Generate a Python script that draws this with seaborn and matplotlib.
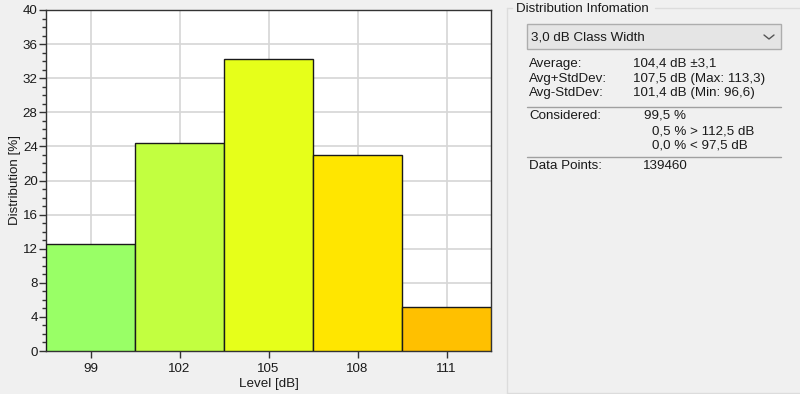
import numpy as np
import pandas as pd
import matplotlib
matplotlib.use("Agg")
import matplotlib.pyplot as plt
import seaborn as sns
from matplotlib.patches import Rectangle
from matplotlib.lines import Line2D
from matplotlib.ticker import MultipleLocator

# class centers (dB) and share of data points (%)
levels = [99, 102, 105, 108, 111]
shares = [12.6, 24.4, 34.2, 23.0, 5.2]
bar_colors = ['#99ff66', '#c2ff40', '#e6ff1a', '#ffe600', '#ffc000']
class_width = 3.0

# info panel text
info_title = 'Distribution Infomation'
combo_text = '3,0 dB Class Width'
stat_labels = ['Average:', 'Avg+StdDev:', 'Avg-StdDev:']
stat_values = ['104,4 dB \u00b13,1', '107,5 dB (Max: 113,3)', '101,4 dB (Min: 96,6)']
considered = ['99,5 %', '0,5 % > 112,5 dB', '0,0 % < 97,5 dB']
data_points = '139460'

sns.set_style('white')
plt.rcParams['font.family'] = ['Liberation Sans', 'DejaVu Sans']
bg = '#f0f0f0'
txt = '#1a1a1a'
fs = 9.6

fig = plt.figure(figsize=(8, 3.94), dpi=100, facecolor=bg)
ax = fig.add_axes([46/800, 1 - 351/394, 445/800, 341/394])
ax.set_facecolor('white')

df = pd.DataFrame({'level': levels, 'share': shares})
sns.barplot(data=df, x='level', y='share', hue='level', palette=bar_colors,
            native_scale=True, width=1, dodge=False, legend=False, saturation=1,
            edgecolor='#1a1a1a', linewidth=1, ax=ax, zorder=3)

ax.set_xlim(levels[0] - class_width/2, levels[-1] + class_width/2)
ax.set_ylim(0, 40)
ax.set_xticks(levels)
ax.set_xticklabels([str(v) for v in levels])
ax.yaxis.set_major_locator(MultipleLocator(4))
ax.yaxis.set_minor_locator(MultipleLocator(1))
ax.grid(True, which='major', color='#d6d6d6', linewidth=1.2, zorder=0)
ax.set_axisbelow(True)
ax.tick_params(axis='y', which='major', length=5, width=1, color='#333333',
               labelsize=fs, labelcolor=txt, pad=1, left=True)
ax.tick_params(axis='y', which='minor', length=3, width=1, color='#333333', left=True)
ax.tick_params(axis='x', length=5, width=1, color='#333333', labelsize=fs,
               labelcolor=txt, pad=4, bottom=True)
for s in ax.spines.values():
    s.set_color('#333333')
    s.set_linewidth(1)
ax.set_xlabel('Level [dB]', fontsize=fs, color=txt, labelpad=2)
ax.set_ylabel('Distribution [%]', fontsize=fs, color=txt, labelpad=1)

# group box on the right
def px(x, y):
    return x / 800, 1 - y / 394

x0, y0 = px(507, 8)
fig.add_artist(Line2D([x0, x0], [y0, px(0, 393)[1]], color='#dcdcdc', lw=1))
fig.add_artist(Line2D([x0, px(512, 0)[0]], [y0, y0], color='#dcdcdc', lw=1))
fig.add_artist(Line2D([px(655, 0)[0], 1], [y0, y0], color='#dcdcdc', lw=1))
fig.add_artist(Line2D([x0, 1], [px(0, 393)[1]] * 2, color='#dcdcdc', lw=1))
fig.text(*px(516, 9), info_title, fontsize=fs, color=txt, va='center', ha='left')

# combo box
cx, cy = px(527, 49)
fig.add_artist(Rectangle((cx, cy), 254/800, 25/394, facecolor='#e5e5e5',
                         edgecolor='#adadad', lw=1, transform=fig.transFigure))
fig.text(*px(531, 37), combo_text, fontsize=fs, color=txt, va='center', ha='left')
fig.add_artist(Line2D([px(764, 0)[0], px(769, 0)[0], px(774, 0)[0]],
                      [px(0, 35)[1], px(0, 39)[1], px(0, 35)[1]],
                      color='#555555', lw=1))

rows_y = [64, 79, 93]
for lab, val, ry in zip(stat_labels, stat_values, rows_y):
    fig.text(*px(529, ry), lab, fontsize=fs, color=txt, va='center')
    fig.text(*px(633, ry), val, fontsize=fs, color=txt, va='center')

for ly in [107, 157]:
    fig.add_artist(Line2D([px(527, 0)[0], px(781, 0)[0]], [px(0, ly)[1]] * 2,
                          color='#a0a0a0', lw=1))

fig.text(*px(529, 116), 'Considered:', fontsize=fs, color=txt, va='center')
for val, ry, rx in zip(considered, [116, 131, 146], [644, 652, 652]):
    fig.text(*px(rx, ry), val, fontsize=fs, color=txt, va='center')

fig.text(*px(529, 166), 'Data Points:', fontsize=fs, color=txt, va='center')
fig.text(*px(643, 166), data_points, fontsize=fs, color=txt, va='center')

fig.savefig('out.png', dpi=100, facecolor=bg)
